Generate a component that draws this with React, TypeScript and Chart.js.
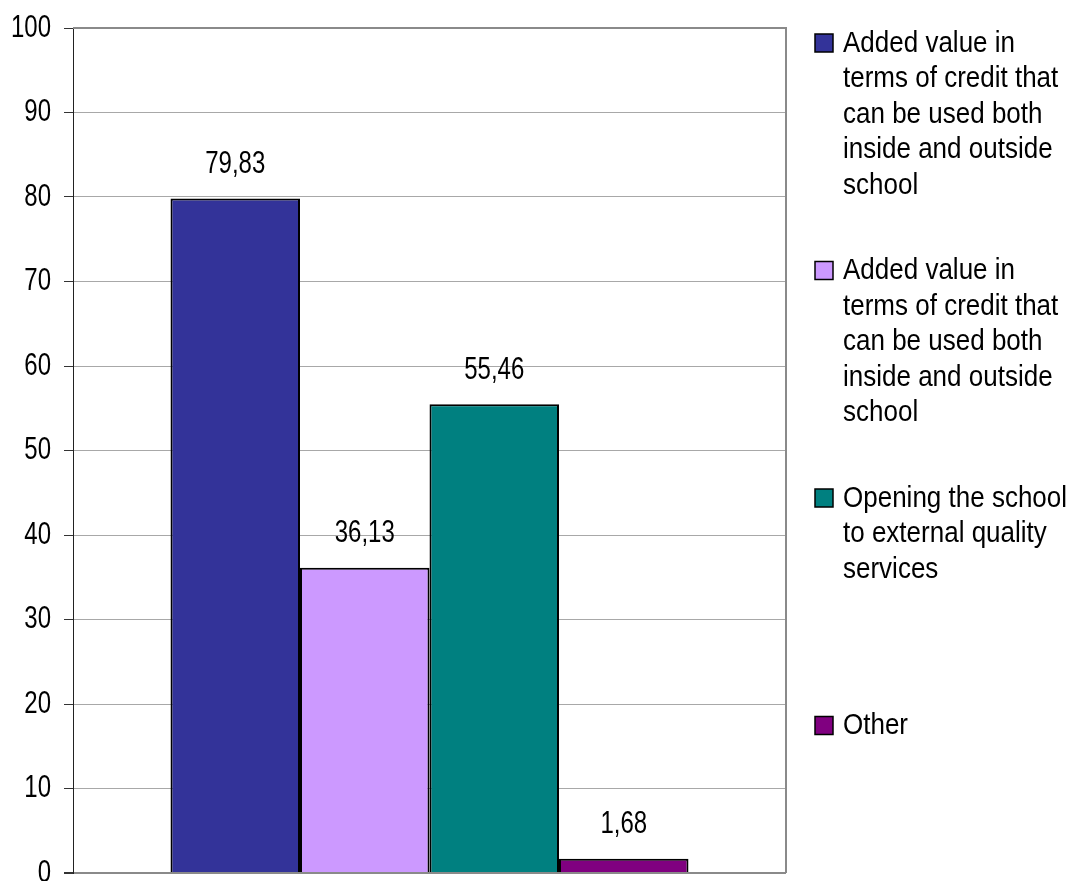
import { useEffect, useRef } from "react";
import { Chart, registerables } from "chart.js";

Chart.register(...registerables);

// ---- data ----
const categories = [""];
const seriesNames = [
  "Added value in terms of credit that can be used both inside and outside school",
  "Added value in terms of credit that can be used both inside and outside school",
  "Opening the school to external quality services",
  "Other",
];
const legendLines = [
  ["Added value in", "terms of credit that", "can be used both", "inside and outside", "school"],
  ["Added value in", "terms of credit that", "can be used both", "inside and outside", "school"],
  ["Opening the school", "to external quality", "services"],
  ["Other"],
];
const seriesValues = [79.83, 36.13, 55.46, 1.68];
const seriesColors = ["#333399", "#CC99FF", "#008080", "#800080"];
const yTickValues = [0, 10, 20, 30, 40, 50, 60, 70, 80, 90, 100];

// ---- layout / style ----
const WIDTH = 1076;
const HEIGHT = 881;
const FONT = '"Liberation Sans", Arial, sans-serif';
const AXIS_TEXT_STRETCH = 1.3;
const LEGEND_TEXT_STRETCH = 1.1;
const LEGEND = { square: 18, boxX: 815, textX: 843, firstY: 44, itemGap: 227.5, lineHeight: 35.5 };

const formatValue = (v: number) => v.toFixed(2).replace(".", ",");

function stretchedText(
  ctx: CanvasRenderingContext2D,
  text: string,
  x: number,
  y: number,
  align: CanvasTextAlign,
  stretch: number
) {
  ctx.save();
  ctx.translate(x, y);
  ctx.scale(1, stretch);
  ctx.textAlign = align;
  ctx.textBaseline = "middle";
  ctx.fillText(text, 0, 0);
  ctx.restore();
}

const frameAndText = {
  id: "frameAndText",
  beforeDatasetsDraw(chart: any) {
    const { ctx, chartArea } = chart;
    ctx.save();
    ctx.strokeStyle = "#8a8a8a";
    ctx.lineWidth = 2;
    ctx.beginPath();
    ctx.moveTo(chartArea.left, chartArea.top);
    ctx.lineTo(chartArea.right, chartArea.top);
    ctx.lineTo(chartArea.right, chartArea.bottom);
    ctx.stroke();
    ctx.restore();
  },
  afterDraw(chart: any) {
    const { ctx, chartArea } = chart;
    const yScale = chart.scales.y;
    ctx.save();
    ctx.fillStyle = "#000";

    // y-axis tick labels
    ctx.font = `24px ${FONT}`;
    yScale.ticks.forEach((t: any) => {
      stretchedText(ctx, String(t.value), chartArea.left - 22, yScale.getPixelForValue(t.value), "right", AXIS_TEXT_STRETCH);
    });

    // value labels above each bar
    chart.data.datasets.forEach((ds: any, i: number) => {
      const meta = chart.getDatasetMeta(i);
      meta.data.forEach((bar: any, j: number) => {
        stretchedText(ctx, formatValue(ds.data[j]), bar.x, bar.y - 34, "center", AXIS_TEXT_STRETCH);
      });
    });

    // legend
    ctx.font = `26px ${FONT}`;
    chart.data.datasets.forEach((ds: any, i: number) => {
      const y0 = LEGEND.firstY + i * LEGEND.itemGap;
      const s = LEGEND.square;
      ctx.fillStyle = ds.backgroundColor;
      ctx.fillRect(LEGEND.boxX, y0 - 1 - s / 2, s, s);
      ctx.strokeStyle = "#000";
      ctx.lineWidth = 1.5;
      ctx.strokeRect(LEGEND.boxX, y0 - 1 - s / 2, s, s);
      ctx.fillStyle = "#000";
      legendLines[i].forEach((line, k) => {
        stretchedText(ctx, line, LEGEND.textX, y0 + k * LEGEND.lineHeight, "left", LEGEND_TEXT_STRETCH);
      });
    });
    ctx.restore();
  },
};

export default function App() {
  const canvasRef = useRef<HTMLCanvasElement | null>(null);

  useEffect(() => {
    if (!canvasRef.current) return;
    const chart = new Chart(canvasRef.current, {
      type: "bar",
      data: {
        labels: categories,
        datasets: seriesValues.map((v, i) => ({
          label: seriesNames[i],
          data: [v],
          backgroundColor: seriesColors[i],
          borderColor: "#000",
          borderWidth: 2,
          categoryPercentage: 0.7265,
          barPercentage: 1,
        })),
      },
      options: {
        responsive: false,
        animation: false,
        layout: { padding: { left: 0, top: 28, right: 290, bottom: 8 } },
        plugins: {
          legend: { display: false },
          tooltip: { enabled: false },
        },
        scales: {
          x: { display: false },
          y: {
            min: 0,
            max: 100,
            afterBuildTicks: (scale: any) => {
              scale.ticks = yTickValues.map((value) => ({ value }));
            },
            afterFit: (scale: any) => {
              scale.width = 73;
            },
            ticks: { display: false },
            border: { display: true, color: "#222", width: 1 },
            grid: {
              color: (c: any) => (c.tick && (c.tick.value === 0 || c.tick.value === 100) ? "#8a8a8a" : "#a8a8a8"),
              lineWidth: (c: any) => (c.tick && c.tick.value === 0 ? 2 : 1),
              tickColor: "#333",
              tickLength: 9,
            },
          },
        },
      },
      plugins: [frameAndText],
    });
    return () => chart.destroy();
  }, []);

  return (
    <div style={{ position: "absolute", left: 0, top: 0, width: WIDTH, height: HEIGHT, background: "#fff" }}>
      <canvas ref={canvasRef} width={WIDTH} height={HEIGHT} style={{ width: WIDTH, height: HEIGHT, display: "block" }} />
    </div>
  );
}
